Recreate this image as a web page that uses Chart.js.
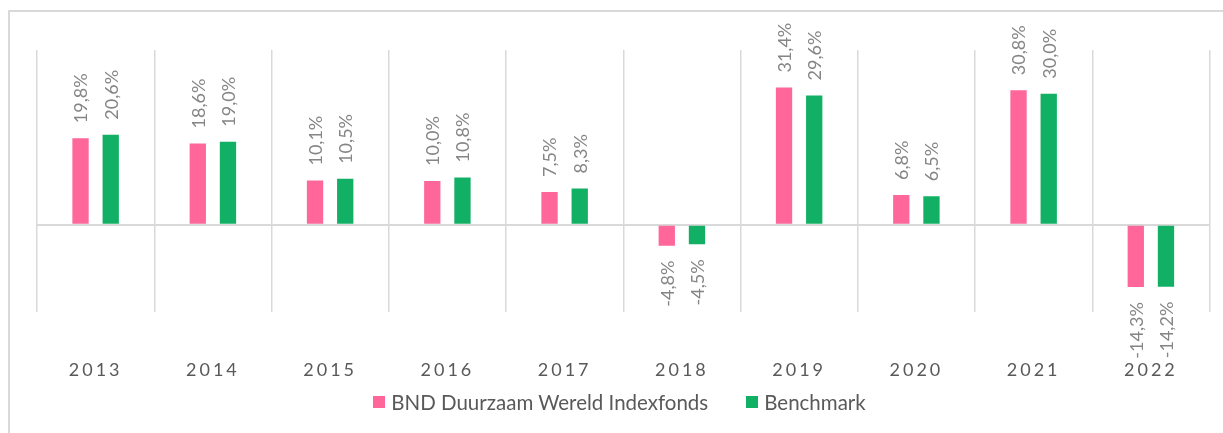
<!DOCTYPE html>
<html>
<head>
<meta charset="utf-8">
<script src="https://cdn.jsdelivr.net/npm/chart.js@4"></script>
<style>
  html, body { margin: 0; padding: 0; background: #fff; }
  #wrap { position: relative; width: 1223px; height: 433px; overflow: hidden; }
  #frame {
    position: absolute; left: 8px; top: 10px; width: 1300px; height: 500px;
    border-left: 2px solid #d9d9d9; border-top: 2px solid #d9d9d9;
  }
  #chart { position: absolute; left: 0; top: 0; }
  #legend {
    position: absolute; left: 0; width: 1239px; top: 390px;
    display: flex; justify-content: center; align-items: center;
    font-family: Lato, sans-serif; font-size: 20.5px; color: #595959;
  }
  .item { display: flex; align-items: center; margin: 0 19px; }
  .box { width: 12px; height: 12px; margin-right: 6px; }
</style>
</head>
<body>
<div id="wrap">
  <div id="frame"></div>
  <canvas id="chart" width="1223" height="433"></canvas>
  <div id="legend"></div>
</div>
<script>
// Jaren en rendementen (in %)
const categories = ['2013', '2014', '2015', '2016', '2017', '2018', '2019', '2020', '2021', '2022'];
const fundValues = [19.8, 18.6, 10.1, 10.0, 7.5, -4.8, 31.4, 6.8, 30.8, -14.3];
const benchmarkValues = [20.6, 19.0, 10.5, 10.8, 8.3, -4.5, 29.6, 6.5, 30.0, -14.2];
const seriesNames = ['BND Duurzaam Wereld Indexfonds', 'Benchmark'];

const pink = '#ff6699';
const green = '#12b064';

// Labels boven/onder de staven, 90 graden gedraaid
const barLabels = {
    id: 'barLabels',
    afterDatasetsDraw(chart) {
        const ctx = chart.ctx;
        ctx.save();
        ctx.font = '18px Lato, sans-serif';
        ctx.fillStyle = '#858585';
        ctx.textBaseline = 'middle';
        chart.data.datasets.forEach((ds, i) => {
            chart.getDatasetMeta(i).data.forEach((bar, j) => {
                const v = ds.data[j];
                const txt = v.toFixed(1).replace('.', ',') + '%';
                ctx.save();
                if (v >= 0) {
                    ctx.translate(bar.x + 1, bar.y - 15);
                    ctx.rotate(-Math.PI / 2);
                    ctx.textAlign = 'left';
                } else {
                    ctx.translate(bar.x + 1, bar.y + 15);
                    ctx.rotate(-Math.PI / 2);
                    ctx.textAlign = 'right';
                }
                ctx.fillText(txt, 0, 0);
                ctx.restore();
            });
        });
        ctx.restore();
        // letterspacing voor de jaartallen (x-as wordt na de datasets getekend)
        ctx.letterSpacing = '3px';
    },
    afterDraw(chart) {
        chart.ctx.letterSpacing = '0px';
    }
};

const chart = new Chart(document.getElementById('chart'), {
    type: 'bar',
    data: {
        labels: categories,
        datasets: [
            { label: seriesNames[0], data: fundValues, backgroundColor: pink },
            { label: seriesNames[1], data: benchmarkValues, backgroundColor: green }
        ]
    },
    options: {
        responsive: false,
        animation: false,
        datasets: {
            bar: { categoryPercentage: 0.515, barPercentage: 0.54 }
        },
        layout: { padding: { left: 37, right: 13.5, top: 50, bottom: 0 } },
        scales: {
            x: {
                grid: { color: '#d9d9d9', lineWidth: 1.5, drawTicks: false, offset: true },
                border: { display: false },
                ticks: {
                    z: 1,
                    padding: 47,
                    maxRotation: 0,
                    color: '#595959',
                    font: { family: 'Lato, sans-serif', size: 18 }
                },
                afterFit(scale) { scale.height = 121; }
            },
            y: {
                min: -20,
                max: 40,
                ticks: { display: false, stepSize: 20 },
                border: { display: false },
                grid: {
                    drawTicks: false,
                    lineWidth: 2,
                    color: c => c.tick && c.tick.value === 0 ? '#d9d9d9' : 'rgba(0,0,0,0)'
                }
            }
        },
        plugins: {
            legend: { display: false },
            tooltip: { enabled: false }
        }
    },
    plugins: [barLabels]
});

// HTML-legenda uit de datasets
const legendEl = document.getElementById('legend');
chart.data.datasets.forEach(ds => {
    const item = document.createElement('div');
    item.className = 'item';
    item.innerHTML = '<span class="box" style="background:' + ds.backgroundColor + '"></span><span>' + ds.label + '</span>';
    legendEl.appendChild(item);
});
</script>
</body>
</html>
